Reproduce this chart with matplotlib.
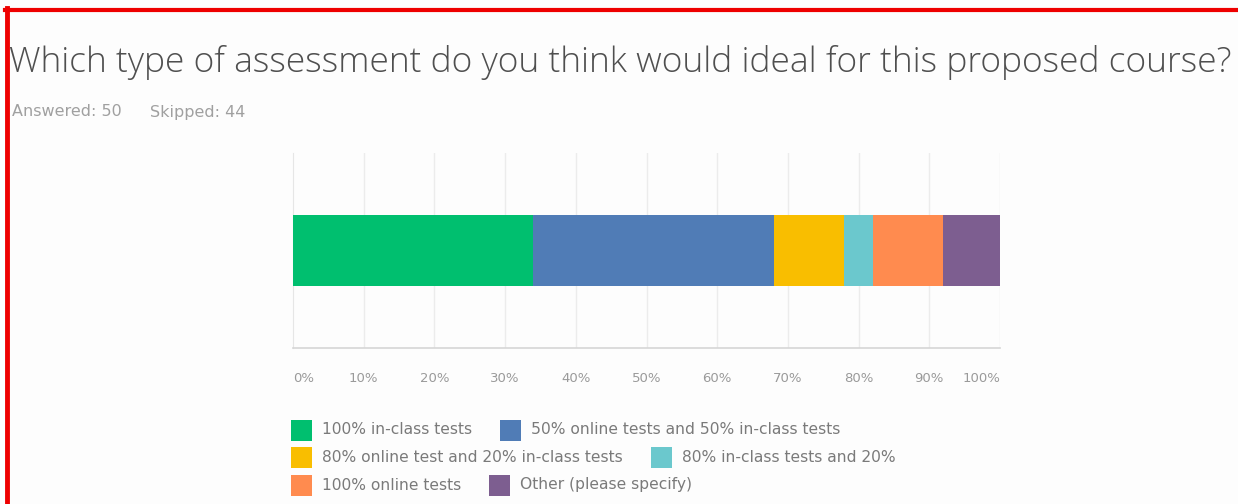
import matplotlib
matplotlib.use("Agg")
import matplotlib.pyplot as plt
from matplotlib.lines import Line2D
from matplotlib.patches import Rectangle

# Survey results (percent of respondents)
title = "Which type of assessment do you think would ideal for this proposed course?"
answered = 50
skipped = 44
categories = [
    "100% in-class tests",
    "50% online tests and 50% in-class tests",
    "80% online test and 20% in-class tests",
    "80% in-class tests and 20%",
    "100% online tests",
    "Other (please specify)",
]
shares = [34, 34, 10, 4, 10, 8]
colors = ["#00BF6F", "#507CB6", "#F9BE00", "#6BC8CD", "#FF8B4F", "#7D5E90"]
tick_values = [0, 10, 20, 30, 40, 50, 60, 70, 80, 90, 100]
tick_labels = [f"{v}%" for v in tick_values]
legend_rows = [[0, 1], [2, 3], [4, 5]]

plt.rcParams["font.family"] = ["Open Sans", "DejaVu Sans"]
small_font = ["DejaVu Sans"]

W, H = 1238, 504
fig = plt.figure(figsize=(W / 100, H / 100), dpi=100)
fig.patch.set_facecolor("#fdfdfd")

def fx(px):
    return px / W

def fy(py):
    return 1 - py / H

# Title and response counts
fig.text(fx(9), fy(62), title, fontsize=25.5, color="#4f4f4f",
         fontweight="light", ha="left", va="center")
fig.text(fx(12), fy(112), f"Answered: {answered}", fontsize=11.5,
         family=small_font, color="#a0a0a0", ha="left", va="center")
fig.text(fx(150), fy(112), f"Skipped: {skipped}", fontsize=11.5,
         family=small_font, color="#a0a0a0", ha="left", va="center")

# Stacked horizontal bar
ax = fig.add_axes([fx(293), fy(348), fx(1000) - fx(293), (348 - 153) / H])
ax.set_facecolor("none")
left = 0
for val, col in zip(shares, colors):
    ax.barh(0, val, left=left, height=0.73, color=col, edgecolor="none", zorder=3)
    left += val

ax.set_xlim(0, 100)
ax.set_ylim(-1, 1)
ax.set_yticks([])
ax.set_xticks(tick_values)
ax.set_xticklabels(tick_labels, family=small_font)
ax.tick_params(axis="x", length=0, pad=17, labelsize=9.5, labelcolor="#9a9a9a")
for v in tick_values[1:]:
    ax.axvline(v, color="#ececec", linewidth=1, zorder=1)
labels = ax.get_xticklabels()
labels[0].set_horizontalalignment("left")
labels[-1].set_horizontalalignment("right")
for side in ("top", "right"):
    ax.spines[side].set_visible(False)
ax.spines["left"].set_color("#e6e6e6")
ax.spines["bottom"].set_color("#d6d6d6")
ax.spines["bottom"].set_linewidth(1.2)

# Legend laid out in flowing rows
fig.canvas.draw()
renderer = fig.canvas.get_renderer()
row_y = [430, 457, 485]
sq = 21
for r, row in enumerate(legend_rows):
    x = 291
    y = row_y[r]
    for idx in row:
        fig.patches.append(Rectangle((fx(x), fy(y + sq / 2)), fx(sq), sq / H,
                                     transform=fig.transFigure,
                                     facecolor=colors[idx], edgecolor="none"))
        t = fig.text(fx(x + sq + 10), fy(y), categories[idx], fontsize=11.2,
                     family=small_font, color="#7a7a7a", ha="left", va="center")
        bb = t.get_window_extent(renderer)
        x = bb.x1 + 28

# Red frame
fig.add_artist(Line2D([fx(5), 1], [fy(10), fy(10)], color="#ee0000",
                      linewidth=3, transform=fig.transFigure))
fig.add_artist(Line2D([fx(7), fx(7)], [fy(8), 0], color="#ee0000",
                      linewidth=3.5, transform=fig.transFigure))

fig.savefig("out.png", dpi=100, facecolor=fig.get_facecolor())
